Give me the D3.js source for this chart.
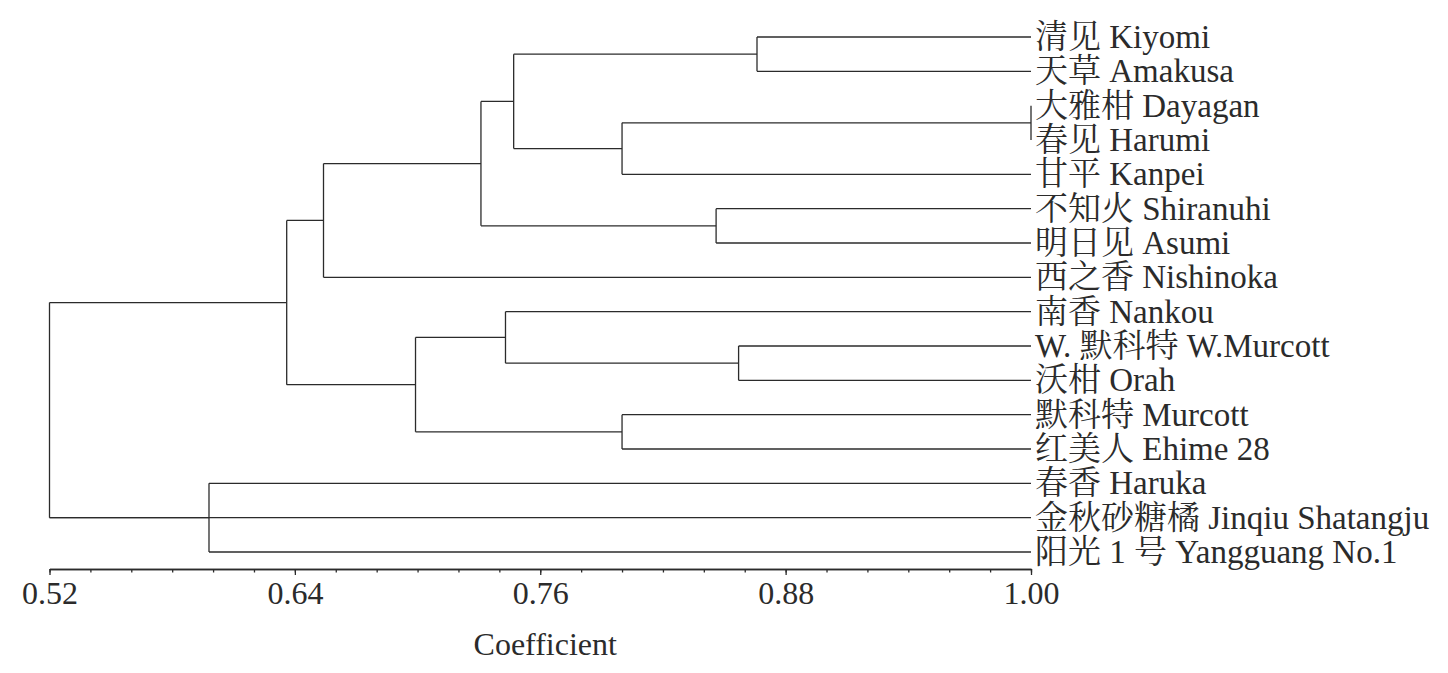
<!DOCTYPE html>
<html>
<head>
<meta charset="utf-8">
<script src="https://cdn.jsdelivr.net/npm/d3@7"></script>
<style>
  html, body { margin: 0; padding: 0; background: #fff; }
  svg { display: block; }
  text { font-family: "Liberation Serif", "Noto Serif CJK SC", "Noto Sans CJK SC", serif; fill: #2b2b2b; }
</style>
</head>
<body>
<svg id="chart" width="1448" height="673"></svg>
<script>
// ---- data ----
const leaves = [
  "清见 Kiyomi", "天草 Amakusa", "大雅柑 Dayagan", "春见 Harumi", "甘平 Kanpei",
  "不知火 Shiranuhi", "明日见 Asumi", "西之香 Nishinoka", "南香 Nankou",
  "W. 默科特 W.Murcott", "沃柑 Orah", "默科特 Murcott", "红美人 Ehime 28",
  "春香 Haruka", "金秋砂糖橘 Jinqiu Shatangju", "阳光 1 号 Yangguang No.1"
];
// merges: [childA, childB, coefficient]; indices < 16 are leaves, >= 16 are earlier merges
const mergeLeft  = [0, 2, 17, 16, 5, 19, 21, 9, 8, 11, 24, 22, 13, 14, 27];
const mergeRight = [1, 3, 4, 18, 6, 20, 7, 10, 23, 12, 25, 26, 15, 28, 29];
const mergeCoef  = [0.866, 1.00, 0.80, 0.747, 0.846, 0.731, 0.654, 0.857, 0.743, 0.80, 0.699, 0.636, 0.598, 0.52, 0.52];
const majorTicks = [0.52, 0.64, 0.76, 0.88, 1.00];
const minorTicks = d3.range(0, 25).map(i => +(0.52 + i * 0.02).toFixed(2));
const axisTitle = "Coefficient";

// ---- build tree ----
const nodes = leaves.map((name, i) => ({ name, index: i, coef: 1.0 }));
mergeLeft.forEach((a, i) => {
  nodes.push({ children: [nodes[a], nodes[mergeRight[i]]], coef: mergeCoef[i] });
});
const rootData = nodes[nodes.length - 1];
const root = d3.hierarchy(rootData);

// ---- scales ----
const x = d3.scaleLinear().domain([0.52, 1.00]).range([49.5, 1031]);
const y = d3.scalePoint().domain(leaves).range([37, 552]);

root.eachAfter(d => {
  d.px = x(d.data.coef);
  if (!d.children) d.py = y(d.data.name);
  else d.py = d3.mean(d.children, c => c.py);
});

const svg = d3.select("#chart");
svg.append("rect").attr("width", 1448).attr("height", 673).attr("fill", "#fff");

const g = svg.append("g");
const stroke = "#2b2b2b";

// horizontal links
g.selectAll("path.h")
  .data(root.links())
  .join("path")
  .attr("class", "h")
  .attr("d", l => `M${l.source.px},${l.target.py}H${l.target.px}`)
  .attr("fill", "none").attr("stroke", stroke).attr("stroke-width", 1.3);

// vertical joins
g.selectAll("path.v")
  .data(root.descendants().filter(d => d.children))
  .join("path")
  .attr("class", "v")
  .attr("d", d => {
    const ys = d.children.map(c => c.py);
    return `M${d.px},${d3.min(ys)}V${d3.max(ys)}`;
  })
  .attr("fill", "none").attr("stroke", stroke).attr("stroke-width", 1.3);

// leaf labels
g.selectAll("text.leaf")
  .data(root.leaves())
  .join("text")
  .attr("class", "leaf")
  .attr("x", d => d.px + 4)
  .attr("y", d => d.py + 11)
  .attr("font-size", 33)
  .text(d => d.data.name);

// ---- axis ----
const axisY = 569;
const minorAxis = d3.axisBottom(x).tickValues(minorTicks).tickSize(3.5).tickSizeOuter(0).tickFormat("");
const majorAxis = d3.axisBottom(x).tickValues(majorTicks).tickSize(6).tickSizeOuter(0).tickPadding(6).tickFormat(d3.format(".2f"));

const ga = svg.append("g").attr("transform", `translate(0,${axisY})`).call(minorAxis);
const gb = svg.append("g").attr("transform", `translate(0,${axisY})`).call(majorAxis);
[ga, gb].forEach(s => {
  s.selectAll("path, line").attr("stroke", stroke).attr("stroke-width", 1.3);
});
gb.selectAll("text")
  .attr("font-size", 32)
  .attr("font-family", "Liberation Serif, serif")
  .attr("fill", "#2b2b2b");

svg.append("text")
  .attr("x", (x.range()[0] + x.range()[1]) / 2 + 5)
  .attr("y", 655)
  .attr("text-anchor", "middle")
  .attr("font-size", 32)
  .text(axisTitle);
</script>
</body>
</html>
